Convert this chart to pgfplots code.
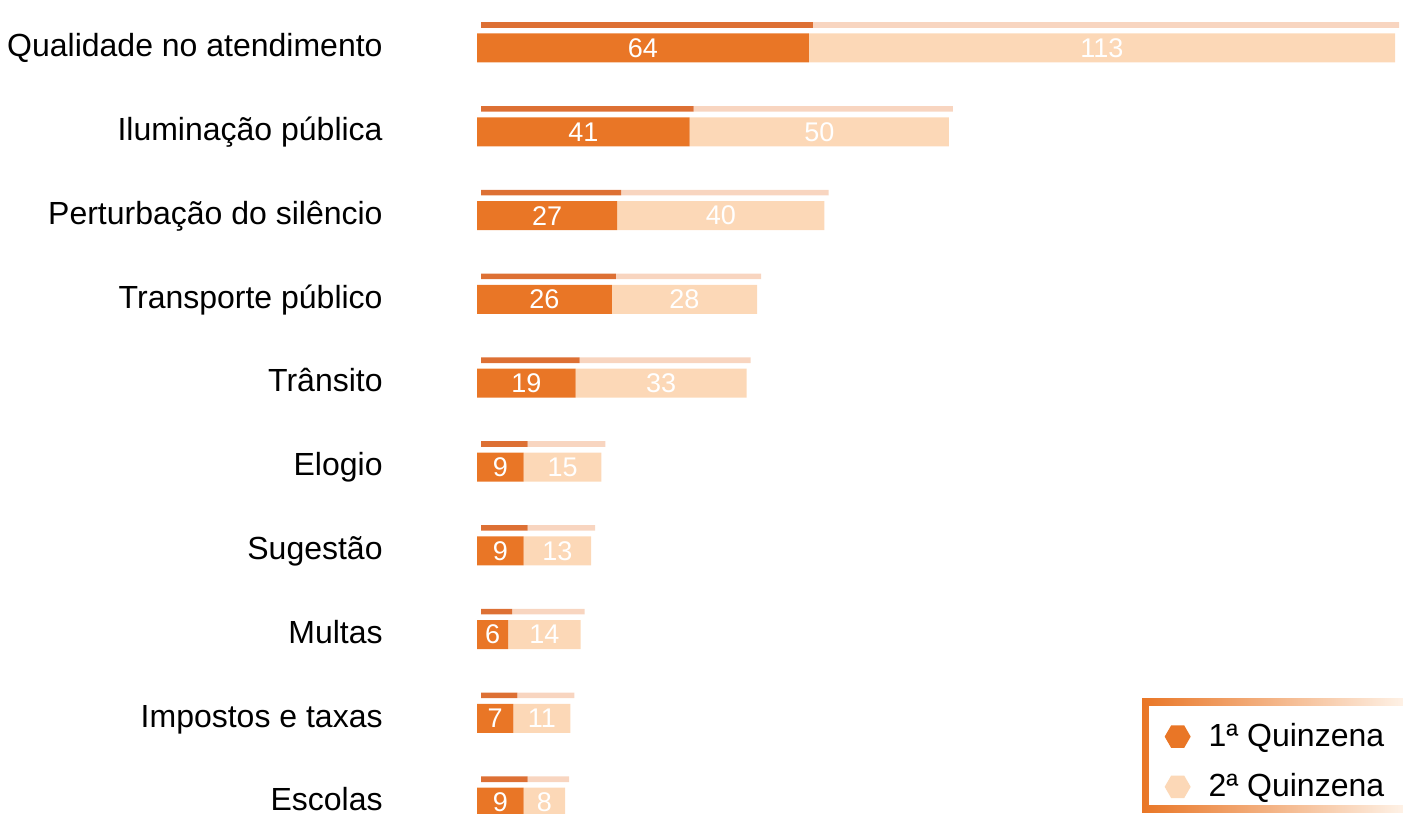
\documentclass[border=0pt]{standalone}
\usepackage{pgfplots}
\pgfplotsset{compat=1.18}
\usepackage{pgfplotstable}
\usepackage{fontspec}
\setmainfont{Liberation Sans}
\definecolor{cA}{RGB}{233,118,38}
\definecolor{cB}{RGB}{252,216,183}
\definecolor{cAt}{RGB}{221,112,52}
\definecolor{cBt}{RGB}{248,213,192}
\definecolor{cMid}{RGB}{247,148,40}

% y: 10 = top row (Qualidade no atendimento), 1 = bottom row (Escolas)
\pgfplotstableread{
y a b
10 64 113
9 41 50
8 27 40
7 26 28
6 19 33
5 9 15
4 9 13
3 6 14
2 7 11
1 9 8
}\data

\newcommand\lf{\fontsize{16pt}{19pt}\selectfont}

\begin{document}
\begin{tikzpicture}
\pgfplotsset{
  base/.style={
    xbar stacked,
    x=2.5932pt, y=41.9pt,
    xmin=0, xmax=178.54, ymin=0.863, ymax=10.5728,
    scale only axis,
    axis line style={draw=none},
    tick style={draw=none},
    xtick=\empty,
    clip=false,
  }
}
% legend frame (decoration)
\fill[left color=cA, middle color=cMid, right color=cB!35!white] (332.5pt,0.5pt) rectangle (463pt,57.5pt);
\fill[white] (336pt,4.5pt) rectangle (463pt,54pt);
% top faces
\begin{axis}[base, xshift=2pt, ytick=\empty, bar width=2.8pt, bar shift=11.5pt]
\addplot[fill=cAt, draw=none] table[x=a,y=y]{\data};
\addplot[fill=cBt, draw=none] table[x=b,y=y]{\data};
\end{axis}
% front faces
\begin{axis}[base, name=ax, bar width=14.5pt,
  ytick={1,...,10},
  yticklabels={Escolas, Impostos e taxas, Multas, Sugestão, Elogio, Trânsito, Transporte público, Perturbação do silêncio, Iluminação pública, Qualidade no atendimento},
  yticklabel style={font=\lf, anchor=base east, inner sep=0pt, xshift=-47pt, yshift=-4.3pt},
  point meta=explicit symbolic,
  nodes near coords,
  every node near coord/.append style={anchor=center, text=white, font=\fontsize{13.5pt}{16pt}\selectfont},
  legend cell align=left,
  legend style={at={(1,0)}, anchor=south east, font=\lf, draw=none, fill=none,
    inner sep=0pt, row sep=8pt, xshift=-7.2pt, yshift=4.7pt,
    /tikz/every odd column/.append style={column sep=7pt}},
]
\addplot[fill=cA, draw=none,
  legend image code/.code={\fill[cA] (0.2cm,0) +(0:6.5pt) -- +(60:6.5pt) -- +(120:6.5pt) -- +(180:6.5pt) -- +(240:6.5pt) -- +(300:6.5pt) -- cycle;}]
  table[x=a,y=y,meta=a]{\data};
\addplot[fill=cB, draw=none,
  legend image code/.code={\fill[cB] (0.2cm,0) +(0:6.5pt) -- +(60:6.5pt) -- +(120:6.5pt) -- +(180:6.5pt) -- +(240:6.5pt) -- +(300:6.5pt) -- cycle;}]
  table[x=b,y=y,meta=b]{\data};
\legend{1ª Quinzena, 2ª Quinzena}
\end{axis}
\pgfresetboundingbox
\path[use as bounding box] (ax.south west) ++(-238.5pt,0) rectangle (ax.north east);
\end{tikzpicture}
\end{document}
